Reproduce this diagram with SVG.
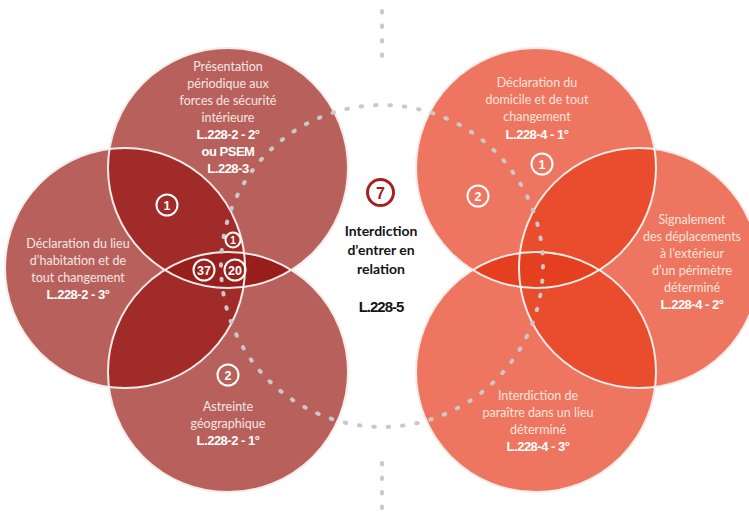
<svg xmlns="http://www.w3.org/2000/svg" width="749" height="530" viewBox="0 0 749 530">
  <style>
    .lbase { fill: #B8615C; }
    .lpair { fill: #A12B29; }
    .llens { fill: #991F1D; }
    .rbase { fill: #EE7661; }
    .rpair { fill: #E94D2E; }
    .rlens { fill: #E43F1F; }
    .outline { fill: none; stroke: #F4ECE8; stroke-width: 2; }
    .txt { font-family: Lato, "Open Sans", sans-serif; font-size: 12.5px; text-anchor: middle; }
    .ltxt { fill: #F6E6E2; }
    .rtxt { fill: #FCE3DB; }
    .ref { font-family: "Liberation Sans", Arial, sans-serif; font-weight: bold; font-size: 13px; letter-spacing: -0.5px; text-anchor: middle; fill: #FFFFFF; }
    .badge circle { fill: none; stroke: #FFFFFF; stroke-width: 2; }
    .badge text { font-family: "Liberation Sans", Arial, sans-serif; font-weight: bold; font-size: 12.5px; fill: #FFFFFF; text-anchor: middle; }
    .dots { fill: none; stroke: #C9C9C9; stroke-width: 4; stroke-linecap: round; }
    .center { font-family: Lato, "Open Sans", sans-serif; font-weight: bold; font-size: 14px; fill: #141414; text-anchor: middle; }
  </style>
  <defs>
    <clipPath id="cLT"><circle cx="228" cy="168" r="120"/></clipPath>
    <clipPath id="cLB"><circle cx="228" cy="372" r="120"/></clipPath>
    <clipPath id="cRT"><circle cx="536" cy="168" r="120"/></clipPath>
    <clipPath id="cRB"><circle cx="536" cy="372" r="120"/></clipPath>
  </defs>

  <!-- Left cluster nodes -->
  <g id="node-presentation">
    <circle class="lbase" cx="228" cy="168" r="120"/>
    <text class="txt ltxt" x="228" y="71">Présentation</text>
    <text class="txt ltxt" x="228" y="88">périodique aux</text>
    <text class="txt ltxt" x="228" y="105">forces de sécurité</text>
    <text class="txt ltxt" x="228" y="122">intérieure</text>
    <text class="ref" x="228" y="139">L.228-2 - 2°</text>
    <text class="ref" x="228" y="156">ou PSEM</text>
    <text class="ref" x="228" y="173">L.228-3</text>
  </g>
  <g id="node-declaration-lieu">
    <circle class="lbase" cx="125" cy="268" r="120"/>
    <text class="txt ltxt" x="78" y="248">Déclaration du lieu</text>
    <text class="txt ltxt" x="78" y="265">d’habitation et de</text>
    <text class="txt ltxt" x="78" y="282">tout changement</text>
    <text class="ref" x="78" y="299">L.228-2 - 3°</text>
  </g>
  <g id="node-astreinte">
    <circle class="lbase" cx="228" cy="372" r="120"/>
    <text class="txt ltxt" x="228" y="411">Astreinte</text>
    <text class="txt ltxt" x="228" y="428">géographique</text>
    <text class="ref" x="228" y="445">L.228-2 - 1°</text>
  </g>

  <!-- Right cluster nodes -->
  <g id="node-declaration-domicile">
    <circle class="rbase" cx="536" cy="168" r="120"/>
    <text class="txt rtxt" x="537" y="87">Déclaration du</text>
    <text class="txt rtxt" x="537" y="104">domicile et de tout</text>
    <text class="txt rtxt" x="537" y="121">changement</text>
    <text class="ref" x="537" y="139">L.228-4 - 1°</text>
  </g>
  <g id="node-signalement">
    <circle class="rbase" cx="639" cy="268" r="120"/>
    <text class="txt rtxt" x="692" y="224">Signalement</text>
    <text class="txt rtxt" x="692" y="241">des déplacements</text>
    <text class="txt rtxt" x="692" y="258">à l’extérieur</text>
    <text class="txt rtxt" x="692" y="275">d’un périmètre</text>
    <text class="txt rtxt" x="692" y="292">déterminé</text>
    <text class="ref" x="692" y="309">L.228-4 - 2°</text>
  </g>
  <g id="node-interdiction-paraitre">
    <circle class="rbase" cx="536" cy="372" r="120"/>
    <text class="txt rtxt" x="538" y="400">Interdiction de</text>
    <text class="txt rtxt" x="538" y="417">paraître dans un lieu</text>
    <text class="txt rtxt" x="538" y="434">déterminé</text>
    <text class="ref" x="538" y="451">L.228-4 - 3°</text>
  </g>

  <!-- Overlaps -->
  <g id="overlaps">
    <circle class="lpair" cx="125" cy="268" r="120" clip-path="url(#cLT)"/>
    <circle class="lpair" cx="125" cy="268" r="120" clip-path="url(#cLB)"/>
    <circle class="llens" cx="228" cy="372" r="120" clip-path="url(#cLT)"/>
    <circle class="rpair" cx="639" cy="268" r="120" clip-path="url(#cRT)"/>
    <circle class="rpair" cx="639" cy="268" r="120" clip-path="url(#cRB)"/>
    <circle class="rlens" cx="536" cy="372" r="120" clip-path="url(#cRT)"/>
  </g>

  <!-- Outlines -->
  <g id="outlines">
    <circle class="outline" cx="228" cy="168" r="120"/>
    <circle class="outline" cx="125" cy="268" r="120"/>
    <circle class="outline" cx="228" cy="372" r="120"/>
    <circle class="outline" cx="536" cy="168" r="120"/>
    <circle class="outline" cx="639" cy="268" r="120"/>
    <circle class="outline" cx="536" cy="372" r="120"/>
  </g>

  <!-- Connectors (dotted) -->
  <g id="connectors">
    <circle class="dots" cx="382" cy="266" r="161" stroke-dasharray="1.5 12.95"/>
    <path class="dots" d="M382 11 V69" stroke-dasharray="1.5 13"/>
    <path class="dots" d="M382 463 V521" stroke-dasharray="1.5 13"/>
  </g>

  <!-- Badges -->
  <g id="badges">
    <g class="badge"><circle cx="167" cy="205" r="10.5"/><text x="167" y="209.5">1</text></g>
    <g class="badge"><circle cx="233" cy="240" r="7.5"/><text x="233" y="244" style="font-size:10px">1</text></g>
    <g class="badge"><circle cx="204" cy="270" r="10.5"/><text x="204" y="274.5">37</text></g>
    <g class="badge"><circle cx="235" cy="270" r="10.5"/><text x="235" y="274.5">20</text></g>
    <g class="badge"><circle cx="228" cy="375" r="10.5"/><text x="228" y="379.5">2</text></g>
    <g class="badge"><circle cx="542" cy="164" r="10.5"/><text x="542" y="168.5">1</text></g>
    <g class="badge"><circle cx="478" cy="196" r="10.5"/><text x="478" y="200.5">2</text></g>
  </g>

  <!-- Center node -->
  <g id="node-interdiction-relation">
    <circle cx="380.5" cy="192.5" r="13" fill="none" stroke="#A5211F" stroke-width="3"/>
    <text x="380.5" y="198.5" style="font-family:'Liberation Sans',Arial,sans-serif;font-weight:bold;font-size:16px;fill:#A5211F;text-anchor:middle">7</text>
    <text class="center" x="381" y="236">Interdiction</text>
    <text class="center" x="381" y="255">d’entrer en</text>
    <text class="center" x="381" y="274">relation</text>
    <text class="center" x="381" y="312" style="font-family:'Liberation Sans',Arial,sans-serif;font-size:15px;letter-spacing:-1px">L.228-5</text>
  </g>
</svg>
